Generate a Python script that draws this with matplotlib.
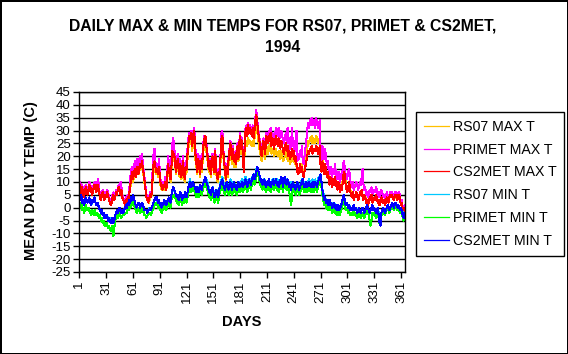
import numpy as np
import matplotlib
matplotlib.use("Agg")
import matplotlib.pyplot as plt

plt.rcParams['font.family'] = ['Liberation Sans', 'DejaVu Sans']

title = "DAILY MAX & MIN TEMPS FOR RS07, PRIMET & CS2MET,\n1994"
x_label = "DAYS"
y_label = "MEAN DAILY TEMP (C)"
series_names = ["RS07 MAX T", "PRIMET MAX T", "CS2MET MAX T",
                "RS07 MIN T", "PRIMET MIN T", "CS2MET MIN T"]
series_colors = ["#FFC000", "#FF00FF", "#FF0000", "#00C8FF", "#00FF00", "#0000FF"]
x_ticks = list(range(1, 366, 30))
y_ticks = list(range(-25, 50, 5))

rs07_max = [
 8, 9, 6, 8, 6, 5, 6, 8, 7, 6,
 7, 9, 8, 7, 6, 6, 8, 9, 8, 7,
 9, 8, 6, 5, 4, 5, 6, 5, 4, 5,
 4, 5, 5, 3, 2, 2, 3, 4, 5, 4,
 4, 6, 5, 7, 8, 6, 6, 7, 5, 4,
 3, 2, 3, 3, 4, 4, 6, 8, 11, 13,
 10, 12, 14, 12, 13, 15, 13, 14, 16, 15,
 17, 14, 12, 9, 7, 4, 3, 2, 2, 4,
 4, 5, 11, 15, 16, 14, 13, 14, 12, 14,
 11, 8, 7, 7, 8, 7, 9, 7, 8, 15,
 14, 12, 10, 15, 20, 19, 19, 17, 13, 15,
 17, 14, 12, 15, 11, 13, 16, 12, 10, 14,
 14, 19, 23, 26, 25, 27, 22, 24, 28, 25,
 18, 16, 13, 17, 15, 12, 16, 14, 18, 23,
 25, 26, 22, 20, 16, 14, 16, 12, 15, 18,
 15, 13, 20, 14, 11, 10, 13, 12, 18, 25,
 26, 20, 17, 13, 10, 15, 12, 17, 20, 23,
 19, 17, 21, 16, 18, 16, 20, 22, 18, 23,
 25, 21, 24, 19, 14, 22, 25, 26, 24, 27,
 25, 26, 25, 24, 26, 24, 27, 30, 33, 30,
 27, 24, 22, 20, 18, 21, 23, 20, 19, 24,
 23, 21, 24, 22, 25, 21, 23, 22, 20, 22,
 23, 21, 20, 22, 21, 19, 22, 20, 18, 19,
 20, 22, 19, 21, 18, 20, 17, 19, 21, 18,
 20, 17, 19, 16, 14, 13, 15, 17, 15, 17,
 14, 13, 15, 18, 20, 23, 26, 25, 27, 26,
 28, 25, 27, 26, 25, 28, 27, 25, 26, 27,
 17, 15, 19, 16, 14, 17, 15, 13, 14, 12,
 10, 12, 10, 9, 11, 10, 12, 10, 9, 8,
 10, 9, 7, 9, 8, 12, 15, 13, 10, 8,
 7, 8, 9, 7, 6, 5, 6, 4, 5, 4,
 6, 5, 4, 4, 6, 5, 6, 5, 3, 5,
 4, 3, 3, 2, 2, 4, 3, 4, 3, 3,
 4, 3, 4, 4, 2, 3, 2, 2, 4, 3,
 2, 3, 2, 2, 4, 3, 2, 4, 4, 4,
 4, 4, 3, 4, 4, 4, 3, 4, 4, 3,
 1, 2, -1, -2, 0]

primet_max = [
 8, 10, 6, 9, 7, 5, 7, 9, 8, 6,
 7, 10, 9, 8, 6, 7, 9, 10, 8, 7,
 10, 11, 7, 5, 4, 6, 7, 5, 4, 6,
 5, 7, 6, 4, 3, 2, 3, 5, 6, 4,
 5, 7, 6, 8, 9, 7, 10, 8, 5, 4,
 3, 2, 4, 3, 5, 4, 8, 12, 15, 16,
 13, 16, 18, 14, 16, 19, 15, 17, 20, 19,
 21, 17, 14, 11, 8, 5, 4, 3, 4, 6,
 5, 7, 15, 21, 23, 18, 16, 17, 15, 19,
 14, 10, 9, 8, 10, 9, 12, 8, 11, 20,
 18, 15, 13, 19, 25, 27, 24, 20, 16, 18,
 21, 17, 15, 19, 14, 16, 20, 15, 13, 18,
 17, 23, 27, 29, 28, 30, 26, 28, 31, 29,
 22, 19, 16, 21, 18, 15, 20, 17, 22, 26,
 28, 27, 25, 23, 18, 16, 19, 14, 17, 21,
 18, 15, 23, 16, 13, 12, 15, 14, 21, 29,
 30, 23, 19, 15, 12, 17, 14, 20, 23, 26,
 22, 20, 24, 19, 21, 18, 23, 25, 20, 26,
 29, 24, 27, 21, 16, 25, 31, 32, 29, 33,
 30, 32, 31, 29, 32, 28, 31, 35, 38, 34,
 31, 28, 26, 23, 21, 25, 27, 24, 22, 29,
 29, 26, 30, 28, 31, 26, 29, 27, 25, 28,
 31, 30, 28, 31, 29, 27, 30, 28, 26, 25,
 27, 29, 26, 31, 25, 27, 23, 25, 31, 24,
 26, 22, 24, 30, 18, 21, 19, 22, 20, 24,
 18, 17, 20, 23, 26, 30, 33, 31, 34, 32,
 35, 32, 33, 34, 31, 35, 33, 31, 32, 34,
 22, 18, 24, 21, 19, 23, 20, 17, 18, 15,
 13, 16, 14, 12, 15, 13, 17, 14, 12, 11,
 14, 12, 10, 13, 11, 17, 18, 16, 13, 11,
 12, 14, 15, 11, 9, 8, 10, 7, 9, 8,
 10, 9, 7, 8, 10, 9, 12, 15, 9, 7,
 8, 5, 6, 4, 5, 7, 6, 8, 5, 6,
 7, 6, 8, 7, 5, 6, 4, 5, 7, 6,
 4, 5, 3, 4, 6, 5, 4, 5, 6, 5,
 6, 5, 4, 6, 5, 6, 4, 5, 6, 4,
 2, 3, 0, -2, 1]

cs2met_max = [
 7, 9, 5, 8, 6, 4, 6, 8, 7, 5,
 6, 9, 8, 7, 5, 6, 8, 9, 7, 6,
 9, 8, 6, 4, 3, 5, 6, 4, 3, 5,
 4, 6, 5, 3, 2, 1, 2, 4, 5, 3,
 4, 6, 5, 7, 8, 6, 5, 7, 4, 3,
 2, 1, 3, 2, 4, 3, 6, 9, 12, 14,
 11, 13, 15, 12, 14, 16, 13, 15, 17, 16,
 18, 15, 13, 10, 7, 4, 3, 2, 3, 5,
 4, 6, 12, 17, 18, 16, 14, 15, 13, 16,
 12, 9, 8, 7, 9, 8, 10, 7, 9, 17,
 15, 13, 11, 16, 22, 20, 21, 18, 14, 16,
 19, 15, 13, 17, 12, 14, 18, 13, 11, 16,
 15, 21, 25, 28, 27, 29, 24, 26, 30, 27,
 20, 17, 14, 19, 16, 13, 18, 15, 20, 25,
 27, 28, 24, 22, 17, 15, 18, 13, 16, 20,
 17, 14, 22, 15, 12, 11, 14, 13, 20, 27,
 28, 22, 18, 14, 11, 16, 13, 19, 22, 25,
 21, 19, 23, 18, 20, 17, 22, 24, 19, 25,
 28, 23, 26, 20, 14, 24, 30, 31, 28, 32,
 29, 31, 30, 28, 31, 27, 30, 34, 36, 33,
 30, 27, 25, 22, 20, 24, 26, 23, 21, 28,
 27, 25, 28, 26, 29, 24, 27, 25, 23, 26,
 28, 26, 24, 27, 25, 23, 26, 24, 22, 21,
 23, 25, 22, 24, 20, 22, 19, 21, 23, 20,
 22, 18, 20, 17, 14, 13, 15, 17, 14, 16,
 13, 12, 14, 16, 18, 20, 22, 21, 23, 22,
 24, 21, 22, 23, 22, 24, 23, 21, 22, 24,
 16, 14, 18, 15, 13, 17, 15, 12, 14, 11,
 9, 12, 10, 8, 11, 9, 12, 10, 8, 7,
 10, 8, 6, 9, 7, 11, 14, 13, 9, 7,
 6, 8, 10, 7, 5, 4, 6, 3, 5, 4,
 6, 5, 3, 4, 6, 5, 7, 4, 3, 5,
 4, 2, 3, 1, 2, 4, 3, 5, 2, 3,
 4, 3, 5, 4, 2, 3, 1, 2, 4, 3,
 2, 3, 1, 2, 4, 3, 2, 4, 5, 4,
 5, 4, 3, 5, 4, 5, 3, 4, 5, 3,
 1, 2, -1, -3, 0]

rs07_min = [
 4, 3, 4, 2, 3, 2, 2, 3, 3, 2,
 3, 3, 2, 1, 2, 2, 3, 3, 2, 1,
 1, 1, 0, -1, -1, -1, -2, -2, -3, -3,
 -3, -3, -4, -4, -4, -5, -5, -4, -5, -4,
 -3, -2, -2, -2, -1, -1, -1, -2, -1, -1,
 -1, 0, 0, 0, 1, 1, 2, 2, 3, 3,
 4, 4, 2, 1, 1, 1, 2, 1, 1, 1,
 2, 1, 0, -1, -1, -1, -1, -1, 0, 0,
 -1, 0, 1, 2, 3, 3, 3, 3, 2, 3,
 1, 1, 1, 2, 1, 2, 2, 1, 2, 3,
 4, 3, 3, 5, 6, 7, 7, 6, 5, 5,
 5, 4, 4, 6, 5, 4, 5, 4, 5, 5,
 5, 6, 8, 10, 11, 9, 9, 10, 9, 8,
 8, 7, 8, 8, 7, 9, 8, 8, 9, 10,
 11, 12, 11, 10, 9, 7, 7, 6, 7, 8,
 7, 5, 6, 7, 7, 5, 6, 8, 10, 11,
 12, 10, 9, 8, 9, 10, 9, 8, 9, 11,
 9, 8, 10, 10, 9, 9, 8, 9, 10, 10,
 9, 10, 11, 9, 10, 11, 12, 10, 9, 11,
 11, 11, 10, 12, 12, 13, 12, 13, 15, 16,
 15, 13, 12, 11, 11, 10, 11, 11, 10, 9,
 10, 10, 11, 10, 9, 10, 11, 11, 10, 11,
 11, 10, 11, 9, 10, 11, 12, 11, 9, 11,
 12, 11, 10, 11, 10, 9, 10, 8, 10, 10,
 9, 9, 8, 9, 10, 9, 8, 9, 10, 11,
 11, 10, 9, 10, 10, 9, 10, 11, 10, 9,
 10, 11, 9, 10, 11, 10, 9, 11, 12, 12,
 12, 10, 7, 6, 4, 4, 3, 3, 2, 2,
 3, 2, 2, 1, 1, 2, 1, 1, 0, 0,
 1, 0, 0, 1, 2, 3, 4, 3, 2, 2,
 1, 1, 1, 0, 0, 0, 0, 1, 0, 0,
 0, -1, -1, 0, -1, -1, -1, 0, -1, -1,
 -1, 0, 0, 0, -1, -2, -1, 0, 0, -1,
 0, -1, -1, -1, 0, -2, -5, -5, -2, -1,
 0, -1, -1, -1, 0, 0, 0, -1, 0, 1,
 1, 1, 0, 1, 1, 1, 0, 1, 0, -1,
 0, -1, -2, -3, -2]

primet_min = [
 1, 0, 2, -1, 0, -2, -1, 1, 0, -1,
 0, -1, -2, -3, -1, -2, -3, -1, -2, -3,
 -2, -3, -4, -3, -5, -4, -6, -5, -7, -6,
 -7, -6, -8, -7, -8, -9, -8, -7, -11, -8,
 -5, -4, -3, -4, -3, -2, -3, -4, -3, -3,
 -3, -2, -2, -2, 0, -1, 1, 0, 2, 1,
 3, 2, 0, -1, -2, -1, 0, -1, -2, -1,
 0, -1, -2, -3, -3, -4, -3, -3, -2, -2,
 -3, -2, -1, 0, 1, 2, 1, 2, 0, 1,
 -1, 0, -2, 0, -1, 1, 0, -1, 0, 1,
 2, 1, 0, 3, 4, 5, 5, 4, 3, 2,
 3, 1, 2, 4, 3, 1, 3, 2, 4, 3,
 2, 4, 6, 7, 8, 6, 7, 8, 7, 6,
 5, 4, 6, 5, 4, 7, 6, 5, 7, 8,
 9, 10, 8, 7, 6, 4, 5, 3, 5, 6,
 4, 2, 3, 5, 4, 2, 3, 6, 7, 8,
 9, 7, 6, 5, 7, 8, 6, 5, 7, 8,
 6, 5, 7, 8, 6, 7, 5, 6, 8, 7,
 6, 7, 8, 6, 7, 8, 9, 7, 6, 8,
 9, 8, 7, 9, 10, 11, 9, 10, 12, 14,
 13, 11, 10, 8, 9, 7, 8, 9, 7, 6,
 8, 7, 9, 8, 6, 7, 8, 9, 7, 8,
 9, 7, 8, 6, 7, 9, 10, 8, 6, 9,
 10, 8, 7, 9, 8, 6, 3, 1, 5, 8,
 6, 7, 5, 6, 8, 7, 5, 6, 7, 8,
 9, 7, 6, 7, 8, 6, 7, 8, 7, 6,
 7, 8, 6, 7, 8, 7, 6, 8, 9, 10,
 11, 8, 5, 3, 1, 2, 0, 1, -1, 0,
 1, -1, 0, -2, -1, 0, -2, -1, -3, -2,
 -1, -3, -2, -1, 0, 2, 3, 1, -1, 0,
 -1, -2, -1, -3, -2, -3, -2, -1, -3, -2,
 -3, -4, -3, -2, -3, -4, -3, -2, -3, -4,
 -3, -2, -1, -2, -3, -5, -7, -5, -2, -3,
 -2, -3, -4, -3, -2, -4, -6, -5, -3, -2,
 -1, -2, -3, -2, -1, 0, -1, -2, -1, 0,
 1, 0, -1, 0, 1, 0, -1, 0, -1, -2,
 -1, -2, -4, -5, -3]

cs2met_min = [
 4, 3, 5, 2, 3, 1, 2, 4, 3, 2,
 3, 4, 2, 1, 3, 2, 3, 4, 2, 1,
 2, 1, 0, -1, -2, -1, -3, -2, -4, -3,
 -4, -3, -5, -4, -5, -6, -5, -4, -6, -5,
 -3, -2, -1, -2, -1, 0, -1, -2, -1, -2,
 -1, 0, 1, 0, 2, 1, 3, 2, 4, 3,
 5, 4, 2, 1, 0, 1, 2, 1, 0, 1,
 2, 1, 0, -1, -1, -1, -2, -1, -1, 0,
 -1, 0, 1, 2, 3, 4, 3, 4, 2, 3,
 1, 2, 0, 2, 1, 3, 2, 1, 2, 3,
 4, 3, 2, 5, 7, 8, 7, 6, 5, 4,
 5, 3, 4, 6, 5, 3, 5, 4, 6, 5,
 4, 6, 8, 9, 10, 8, 9, 10, 9, 8,
 7, 6, 8, 7, 6, 9, 8, 7, 9, 10,
 11, 12, 10, 9, 8, 6, 7, 5, 7, 8,
 6, 4, 5, 7, 6, 4, 5, 8, 9, 10,
 11, 9, 8, 7, 9, 10, 8, 7, 9, 10,
 8, 7, 9, 10, 8, 9, 7, 8, 10, 9,
 8, 9, 10, 8, 9, 10, 11, 9, 8, 10,
 11, 10, 9, 11, 12, 13, 11, 12, 14, 16,
 15, 13, 12, 10, 11, 9, 10, 11, 9, 8,
 10, 9, 11, 10, 8, 9, 10, 11, 9, 10,
 11, 9, 10, 8, 9, 11, 12, 10, 8, 11,
 12, 10, 9, 11, 10, 8, 9, 7, 9, 10,
 8, 9, 7, 8, 10, 9, 7, 8, 9, 10,
 11, 9, 8, 9, 10, 8, 9, 10, 9, 8,
 9, 10, 8, 9, 10, 9, 8, 10, 11, 12,
 13, 10, 7, 5, 3, 4, 2, 3, 1, 2,
 3, 1, 2, 0, 1, 2, 0, 1, -1, 0,
 1, -1, 0, 1, 2, 4, 5, 3, 1, 2,
 1, 0, 1, -1, 0, -1, 0, 1, -1, 0,
 -1, -2, -1, 0, -1, -2, -1, 0, -1, -2,
 -1, 0, 1, 0, -1, -2, -1, 0, 1, -1,
 0, -1, -2, -1, 0, -3, -6, -7, -2, -1,
 0, -1, -2, -1, 0, 1, 0, -1, 0, 1,
 2, 1, 0, 1, 2, 1, 0, 1, 0, -1,
 0, -1, -3, -4, -2]

all_series = [rs07_max, primet_max, cs2met_max, rs07_min, primet_min, cs2met_min]

W, H = 568, 354
fig = plt.figure(figsize=(W / 100, H / 100), dpi=100)
fig.patch.set_facecolor("white")
fig.patch.set_edgecolor("black")
fig.patch.set_linewidth(2)

ax = fig.add_axes([79 / W, 1 - 272 / H, 326 / W, 180 / H])
ax.set_facecolor("white")

lines = []
for vals, name, col in zip(all_series, series_names, series_colors):
    days = np.arange(1, len(vals) + 1)
    ln, = ax.plot(days, vals, color=col, lw=0.75, label=name, antialiased=False)
    lines.append(ln)

ax.set_xlim(0.5, 365.5)
ax.set_ylim(-25, 45)
ax.set_xticks(x_ticks)
ax.set_xticklabels([str(t) for t in x_ticks], rotation=90, fontsize=9.5)
ax.set_yticks(y_ticks)
ax.set_yticklabels([str(t) for t in y_ticks], fontsize=9.5)
ax.tick_params(direction="out", length=4, width=1, color="black", pad=2)
ax.yaxis.grid(True, color="black", lw=1)
ax.set_axisbelow(True)
for s in ax.spines.values():
    s.set_color("black")
    s.set_linewidth(1)

fig.text(283 / W, 1 - 36.5 / H, title, ha="center", va="center",
         fontsize=11.3, fontweight="bold", linespacing=1.5)
fig.text(31 / W, 1 - 181 / H, y_label, ha="center", va="center",
         rotation=90, fontsize=10.5, fontweight="bold")
fig.text(242 / W, 1 - 322.5 / H, x_label, ha="center", va="center",
         fontsize=10.5, fontweight="bold")

leg_handles = []
for col in series_colors:
    h, = ax.plot([], [], color=col, lw=0.9)
    leg_handles.append(h)
leg = fig.legend(handles=leg_handles, labels=series_names, loc="upper left",
                 bbox_to_anchor=(416 / W, 1 - 112 / H),
                 fontsize=10.2, frameon=True, fancybox=False, shadow=False,
                 framealpha=1, edgecolor="black", handlelength=1.75,
                 handletextpad=0.3, labelspacing=0.62, borderpad=0.55,
                 borderaxespad=0)
leg.get_frame().set_linewidth(1)

fig.savefig("out.png", dpi=100)
